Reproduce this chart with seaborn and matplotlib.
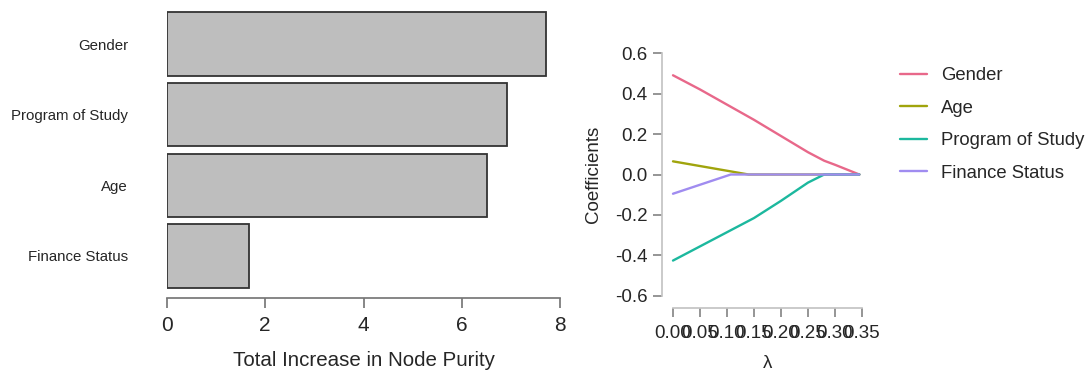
import numpy as np
import pandas as pd
import matplotlib
matplotlib.use("Agg")
import matplotlib.pyplot as plt
import seaborn as sns

# variable importance (random forest)
features = ["Gender", "Program of Study", "Age", "Finance Status"]
purity = [7.72, 6.93, 6.52, 1.67]

# lasso coefficient paths
gender_lam = [0.0, 0.05, 0.10, 0.15, 0.20, 0.25, 0.28, 0.30, 0.345]
gender_coef = [0.49, 0.42, 0.345, 0.27, 0.19, 0.11, 0.068, 0.048, 0.0]
age_lam = [0.0, 0.14, 0.345]
age_coef = [0.065, 0.0, 0.0]
program_lam = [0.0, 0.05, 0.10, 0.15, 0.20, 0.25, 0.28, 0.345]
program_coef = [-0.425, -0.355, -0.285, -0.215, -0.13, -0.04, 0.0, 0.0]
finance_lam = [0.0, 0.107, 0.345]
finance_coef = [-0.095, 0.0, 0.0]

series = ["Gender", "Age", "Program of Study", "Finance Status"]
colors = ["#E8688A", "#A0A40C", "#1CB89E", "#A08CF0"]
lam_ticks = [0.0, 0.05, 0.10, 0.15, 0.20, 0.25, 0.30, 0.35]
coef_ticks = [-0.6, -0.4, -0.2, 0.0, 0.2, 0.4, 0.6]

sns.set_theme(style="white")
plt.rcParams["font.family"] = ["Liberation Sans", "DejaVu Sans"]

fig = plt.figure(figsize=(10.87, 3.76), dpi=100)

# ---- left: bar chart
ax1 = fig.add_axes([167 / 1087, 1 - 292 / 376, 393 / 1087, 284 / 376])
imp = pd.DataFrame({"feature": features, "purity": purity})
sns.barplot(data=imp, x="purity", y="feature", orient="h", color="#BEBEBE",
            saturation=1, width=0.9, edgecolor="#333333", linewidth=1.3, ax=ax1)
ax1.set_xlim(0, 8)
ax1.set_ylim(3.51, -0.51)
for s in ["top", "right", "left"]:
    ax1.spines[s].set_visible(False)
ax1.spines["bottom"].set_position(("outward", 4.5))
ax1.spines["bottom"].set_bounds(0, 8)
ax1.spines["bottom"].set_color("#777777")
ax1.set_xticks([0, 2, 4, 6, 8])
ax1.tick_params(axis="x", bottom=True, length=7, color="#777777", labelsize=15, pad=6)
ax1.tick_params(axis="y", left=False, labelsize=10.8, pad=22)
ax1.set_ylabel("")
ax1.set_xlabel("Total Increase in Node Purity", fontsize=14.8, labelpad=11)

# ---- right: lasso paths
ax2 = fig.add_axes([667 / 1087, 1 - 301 / 376, 201 / 1087, 253 / 376])
paths = pd.concat([
    pd.DataFrame({"lam": gender_lam, "coef": gender_coef, "var": "Gender"}),
    pd.DataFrame({"lam": age_lam, "coef": age_coef, "var": "Age"}),
    pd.DataFrame({"lam": program_lam, "coef": program_coef, "var": "Program of Study"}),
    pd.DataFrame({"lam": finance_lam, "coef": finance_coef, "var": "Finance Status"}),
])
sns.lineplot(data=paths, x="lam", y="coef", hue="var", hue_order=series,
             palette=colors, estimator=None, linewidth=1.7, ax=ax2)
ax2.set_xlim(-0.0111, 0.3611)
ax2.set_ylim(-0.6247, 0.6247)
for s in ["top", "right"]:
    ax2.spines[s].set_visible(False)
ax2.spines["left"].set_position(("outward", 3.6))
ax2.spines["bottom"].set_position(("outward", 5))
for s in ["left", "bottom"]:
    ax2.spines[s].set_color("#C4C4C4")
ax2.spines["left"].set_bounds(-0.6, 0.6)
ax2.spines["bottom"].set_bounds(0, 0.35)
ax2.set_xticks(lam_ticks)
ax2.set_xticklabels([f"{v:.2f}" for v in lam_ticks])
ax2.set_yticks(coef_ticks)
ax2.set_yticklabels([f"{v:.1f}" for v in coef_ticks])
ax2.tick_params(axis="both", bottom=True, left=True, length=6.5, color="#888888",
                labelsize=13.5, pad=4)
ax2.tick_params(axis="x", pad=6)
ax2.set_xlabel("λ", fontsize=13.5, labelpad=9)
ax2.set_ylabel("Coefficients", fontsize=13.5, labelpad=9)

handles, labels = ax2.get_legend_handles_labels()
ax2.legend(handles, labels, loc="upper left", bbox_to_anchor=(893 / 1087, 1 - 60 / 376),
           bbox_transform=fig.transFigure, frameon=False, fontsize=13.3,
           handlelength=1.45, handletextpad=0.75, labelspacing=0.84, borderaxespad=0)

fig.savefig("out.png", dpi=100)
